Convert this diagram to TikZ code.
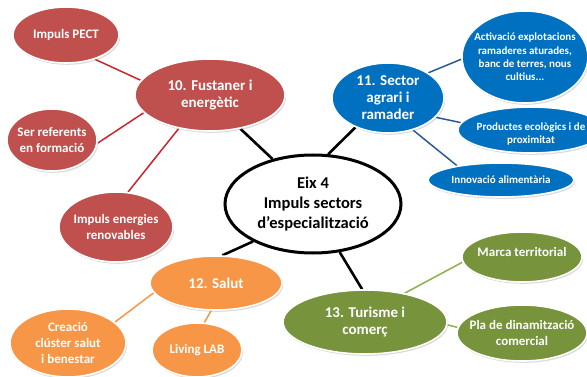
\documentclass[tikz,border=0pt]{standalone}
\usepackage{fontspec}
\setmainfont{Carlito}
\usetikzlibrary{shapes.geometric,shadows}
\definecolor{redF}{HTML}{C0504D}
\definecolor{redL}{HTML}{C8262C}
\definecolor{blueF}{HTML}{0070C0}
\definecolor{blueL}{HTML}{2A5A94}
\definecolor{orF}{HTML}{F79646}
\definecolor{orL}{HTML}{F79646}
\definecolor{grF}{HTML}{77933C}
\definecolor{grL}{HTML}{8DB04A}
\pgfdeclarelayer{bg}
\pgfsetlayers{bg,main}
\begin{document}
\begin{tikzpicture}[x=1pt,y=-1pt,
  bub/.style={ellipse, draw=white, line width=1.6pt, inner sep=0pt,
    drop shadow={opacity=0.3, shadow xshift=1.2pt, shadow yshift=-1.8pt}},
  txt/.style={text=white, align=center, inner sep=0pt},
  title/.style={txt, font=\bfseries\fontsize{15}{17}\selectfont},
  leaf/.style={txt, font=\bfseries\fontsize{13}{16}\selectfont},
  small/.style={txt, font=\bfseries\fontsize{11}{13.3}\selectfont},
  main/.style={line width=2.6pt, black},
  sub/.style={line width=1.5pt}
]
\useasboundingbox (0,0) rectangle (587,377);
\clip (0,0) rectangle (587,377);

% center
\node[ellipse, draw=black, line width=3pt, fill=white, minimum width=176, minimum height=98, inner sep=0pt] (c) at (313,204) {};
\node[txt, text=black, font=\bfseries\fontsize{16.5}{20}\selectfont] (cT) at (c) {Eix 4\\Impuls sectors\\d’especialització};

% red group
\node[bub, fill=redF, minimum width=150, minimum height=72] (f10) at (210,95) {};
\node[title] (f10T) at (f10) {10. Fustaner i\\energètic};
\node[bub, fill=redF, minimum width=106, minimum height=56] (pect) at (66,35) {};
\node[leaf] (pectT) at (pect) {Impuls PECT};
\node[bub, fill=redF, minimum width=90, minimum height=62] (ser) at (52,140) {};
\node[leaf] (serT) at (ser) {Ser referents\\en formació};
\node[bub, fill=redF, minimum width=114, minimum height=70] (en) at (116,227) {};
\node[leaf] (enT) at (en) {Impuls energies\\renovables};

% blue group
\node[bub, fill=blueF, minimum width=112, minimum height=70] (s11) at (388,98) {};
\node[title] (s11T) at (s11) {11. Sector\\agrari i\\ramader};
\node[bub, fill=blueF, minimum width=126, minimum height=92] (act) at (525,57) {};
\node[small] (actT) at (act) {Activació explotacions\\ramaderes aturades,\\banc de terres, nous\\cultius...};
\node[bub, fill=blueF, minimum width=146, minimum height=46] (prod) at (531,130) {};
\node[small] (prodT) at (531,134) {Productes ecològics i de\\proximitat};
\node[bub, fill=blueF, minimum width=146, minimum height=34] (inn) at (501,180) {};
\node[small] (innT) at (inn) {Innovació alimentària};

% orange group
\node[bub, fill=orF, minimum width=132, minimum height=54] (s12) at (216,283) {};
\node[title] (s12T) at (s12) {12. Salut};
\node[bub, fill=orF, minimum width=116, minimum height=68] (cre) at (68,343) {};
\node[leaf] (creT) at (cre) {Creació\\clúster salut\\i benestar};
\node[bub, fill=orF, minimum width=90, minimum height=54] (liv) at (197,350) {};
\node[leaf] (livT) at (liv) {Living LAB};

% green group
\node[bub, fill=grF, minimum width=164, minimum height=64] (s13) at (365,322) {};
\node[title] (s13T) at (s13) {13. Turisme i\\comerç};
\node[bub, fill=grF, minimum width=120, minimum height=50] (mar) at (522,257) {};
\node[leaf] (marT) at (522,252) {Marca territorial};
\node[bub, fill=grF, minimum width=130, minimum height=56] (pla) at (522,333) {};
\node[leaf] (plaT) at (pla) {Pla de dinamització\\comercial};

\begin{pgfonlayer}{bg}
\draw[main] (c.132) -- (f10.-48);
\draw[main] (c.73) -- (s11.222);
\draw[main] (c.212) -- (s12.77);
\draw[main] (c.-61) -- (s13.95);

\draw[sub, redL] (pect.-40) -- (f10.168);
\draw[sub, redL] (ser.-4) -- (f10.195);
\draw[sub, redL] (en.71) -- (f10.227);

\draw[sub, blueL] (s11.32) -- (act.182);
\draw[sub, blueL] (s11.-22) -- (prod.174);
\draw[sub, blueL] (s11.-52) -- (inn.162);

\draw[sub, orL] (s12.189) -- (cre.24);
\draw[sub, orL] (s12.-100) -- (liv.75);

\draw[sub, grL] (s13.36) -- (mar.185);
\draw[sub, grL] (s13.-2) -- (pla.175);
\end{pgfonlayer}
\end{tikzpicture}
\end{document}
